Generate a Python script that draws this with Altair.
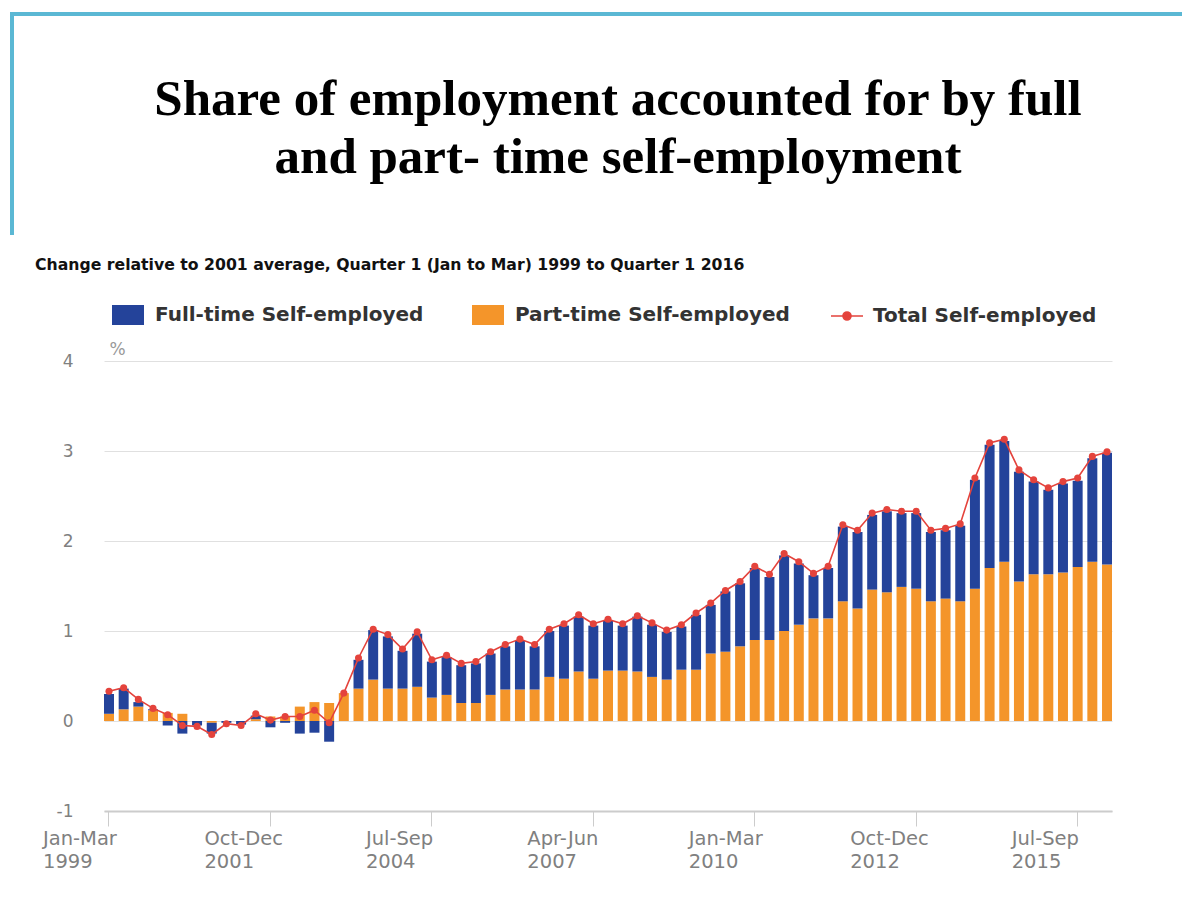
import altair as alt
import pandas as pd

quarter_names = ["Jan-Mar", "Apr-Jun", "Jul-Sep", "Oct-Dec"]
periods = [f"{quarter_names[i % 4]} {1999 + i // 4}" for i in range(69)]
tick_periods = periods[::11]

part_time = [0.08, 0.13, 0.16, 0.12, 0.09, 0.08, 0.0, -0.02, 0.0, 0.0,
             0.02, 0.05, 0.05, 0.16, 0.21, 0.2, 0.31, 0.36, 0.46, 0.36,
             0.36, 0.38, 0.26, 0.29, 0.2, 0.2, 0.29, 0.35, 0.35, 0.35,
             0.49, 0.47, 0.55, 0.47, 0.56, 0.56, 0.55, 0.49, 0.46, 0.57,
             0.57, 0.75, 0.77, 0.83, 0.9, 0.9, 1.0, 1.07, 1.14, 1.14,
             1.33, 1.25, 1.46, 1.43, 1.49, 1.47, 1.33, 1.36, 1.33, 1.47,
             1.7, 1.77, 1.55, 1.63, 1.63, 1.65, 1.71, 1.77, 1.74]

full_time = [0.22, 0.23, 0.05, 0.01, -0.05, -0.14, -0.05, -0.12, -0.02, -0.04,
             0.04, -0.07, -0.02, -0.14, -0.13, -0.23, 0.0, 0.32, 0.55, 0.58,
             0.42, 0.59, 0.40, 0.42, 0.42, 0.44, 0.46, 0.48, 0.54, 0.48,
             0.51, 0.59, 0.61, 0.59, 0.56, 0.50, 0.61, 0.58, 0.53, 0.48,
             0.61, 0.54, 0.67, 0.70, 0.80, 0.70, 0.84, 0.68, 0.48, 0.56,
             0.83, 0.85, 0.83, 0.90, 0.82, 0.84, 0.77, 0.76, 0.84, 1.21,
             1.37, 1.34, 1.22, 1.03, 0.94, 0.99, 0.96, 1.15, 1.24]

total = [0.33, 0.37, 0.24, 0.14, 0.07, -0.05, -0.06, -0.15, -0.03, -0.05,
         0.08, 0.01, 0.05, 0.05, 0.12, -0.02, 0.31, 0.70, 1.02, 0.96,
         0.80, 0.99, 0.68, 0.73, 0.64, 0.66, 0.77, 0.85, 0.91, 0.85,
         1.02, 1.08, 1.18, 1.08, 1.13, 1.08, 1.17, 1.09, 1.01, 1.07,
         1.20, 1.31, 1.45, 1.55, 1.72, 1.63, 1.86, 1.77, 1.64, 1.72,
         2.18, 2.12, 2.31, 2.35, 2.33, 2.33, 2.12, 2.14, 2.19, 2.70,
         3.09, 3.13, 2.79, 2.68, 2.59, 2.66, 2.70, 2.94, 2.99]

title_lines = ["Share of employment accounted for by full", "and part- time self-employment"]
subtitle_text = "Change relative to 2001 average, Quarter 1 (Jan to Mar) 1999 to Quarter 1 2016"

FT = "Full-time Self-employed"
PT = "Part-time Self-employed"
TOT = "Total Self-employed"
BLUE = "#24439a"
ORANGE = "#f4952a"
RED = "#e4433c"

rows = []
for i, p in enumerate(periods):
    rows.append({"period": p, "series": PT, "value": part_time[i], "ord": 0})
    rows.append({"period": p, "series": FT, "value": full_time[i], "ord": 1})
bars_df = pd.DataFrame(rows)
line_df = pd.DataFrame({"period": periods, "total": total, "series": TOT})

x_enc = alt.X(
    "period:N",
    sort=periods,
    title=None,
    scale=alt.Scale(paddingInner=0.32, paddingOuter=0),
    axis=alt.Axis(
        values=tick_periods,
        labelExpr="split(datum.label, ' ')",
        labelAngle=0,
        labelAlign="left",
        labelOffset=-66,
        labelBaseline="top",
        labelPadding=3,
        labelFont="DejaVu Sans",
        labelFontSize=19.5,
        labelLineHeight=23,
        labelColor="#808080",
        tickSize=15,
        tickColor="#cccccc",
        tickWidth=1,
        domainColor="#cccccc",
        domainWidth=2,
        grid=False,
    ),
)

y_scale = alt.Scale(domain=[-1, 4], nice=False)
y_axis = alt.Axis(
    values=[-1, 0, 1, 2, 3, 4],
    labelExpr="'' + datum.value",
    title="%",
    titleAngle=0,
    titleX=5,
    titleY=-3,
    titleAlign="left",
    titleBaseline="bottom",
    titleFont="DejaVu Sans",
    titleFontSize=17,
    titleFontWeight="normal",
    titleColor="#999999",
    labelFont="DejaVu Sans",
    labelFontSize=17,
    labelColor="#808080",
    labelPadding=31,
    ticks=False,
    domain=False,
    grid=True,
    gridColor="#e0e0e0",
    gridWidth=1,
)

bars = alt.Chart(bars_df).mark_bar().encode(
    x=x_enc,
    y=alt.Y("value:Q", stack="zero", scale=y_scale, axis=y_axis),
    color=alt.Color(
        "series:N",
        scale=alt.Scale(domain=[FT, PT], range=[BLUE, ORANGE]),
        legend=alt.Legend(
            title=None,
            orient="none",
            legendX=14,
            legendY=-56,
            direction="horizontal",
            symbolType="M-1.6,-1H1.6V1H-1.6Z",
            symbolSize=400,
            symbolStrokeWidth=0,
            symbolOpacity=1,
            labelOffset=17,
            labelLimit=500,
            labelFont="DejaVu Sans",
            labelFontWeight="bold",
            labelFontSize=20,
            labelColor="#333333",
            columnPadding=48,
            padding=0,
        ),
    ),
    order=alt.Order("ord:Q", sort="ascending"),
)

line = alt.Chart(line_df).mark_line(strokeWidth=1.6).encode(
    x=alt.X("period:N", sort=periods),
    y=alt.Y("total:Q", scale=y_scale),
    stroke=alt.Stroke(
        "series:N",
        scale=alt.Scale(domain=[TOT], range=[RED]),
        legend=alt.Legend(
            title=None,
            orient="none",
            legendX=732,
            legendY=-56,
            symbolType="M-1.6,0H1.6M0.4,0A0.4,0.4,0,1,1,-0.4,0A0.4,0.4,0,1,1,0.4,0Z",
            symbolSize=400,
            symbolStrokeWidth=1.6,
            symbolFillColor=RED,
            labelOffset=15,
            labelLimit=500,
            labelFont="DejaVu Sans",
            labelFontWeight="bold",
            labelFontSize=20,
            labelColor="#333333",
            padding=0,
        ),
    ),
)

points = alt.Chart(line_df).mark_circle(size=50, color=RED, opacity=1).encode(
    x=alt.X("period:N", sort=periods),
    y=alt.Y("total:Q", scale=y_scale),
)

one = alt.Data(values=[{"a": 1}])
title = alt.Chart(one).mark_text(
    text=title_lines,
    font="Liberation Serif",
    fontWeight="bold",
    fontSize=51,
    lineHeight=58,
    color="#000000",
    align="center",
    baseline="alphabetic",
).encode(x=alt.value(514), y=alt.value(-246))

subtitle = alt.Chart(one).mark_text(
    text=subtitle_text,
    font="DejaVu Sans",
    fontWeight="bold",
    fontSize=15.7,
    color="#111111",
    align="left",
    baseline="middle",
).encode(x=alt.value(-69), y=alt.value(-96))

border_top = alt.Chart(one).mark_rule(color="#5bb8d4", strokeWidth=4).encode(
    x=alt.value(-94), x2=alt.value(1086), y=alt.value(-347)
)
border_left = alt.Chart(one).mark_rule(color="#5bb8d4", strokeWidth=4).encode(
    x=alt.value(-92), y=alt.value(-349), y2=alt.value(-126)
)

chart = alt.layer(border_top, border_left, bars, line, points, title, subtitle).resolve_scale(
    color="independent", stroke="independent"
).properties(
    width=1008,
    height=450,
    background="white",
    padding={"left": 96, "top": 353, "right": 70, "bottom": 80},
    autosize=alt.AutoSizeParams(type="none"),
).configure_view(strokeWidth=0, stroke="transparent")

chart.save("out.html", embed_options={"renderer": "svg", "actions": False})
